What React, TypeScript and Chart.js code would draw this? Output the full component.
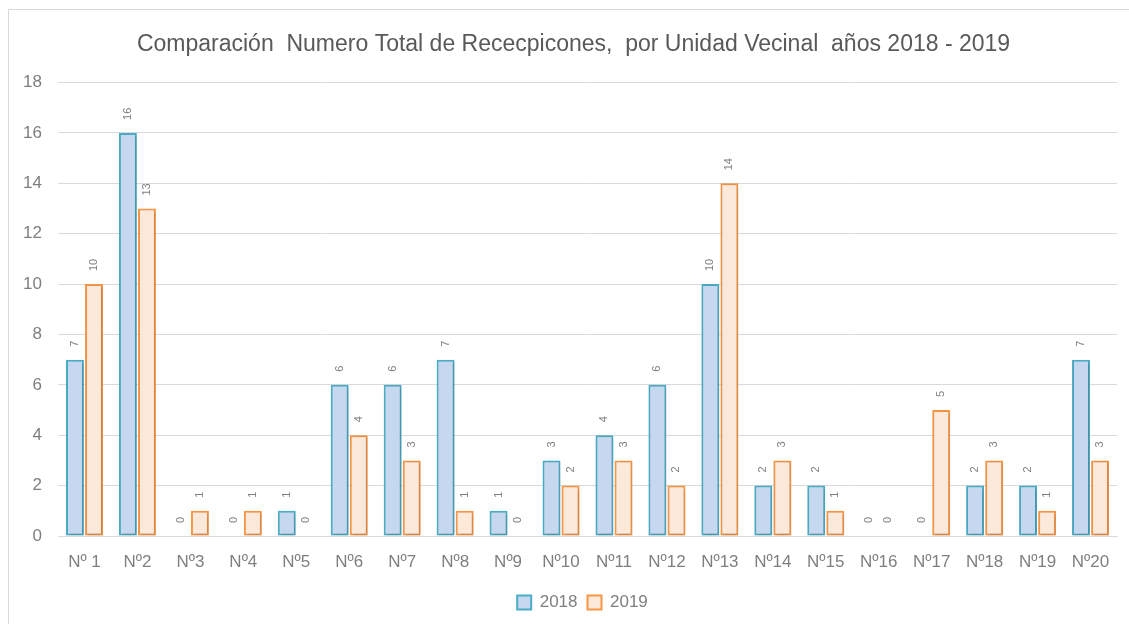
import React, { useEffect, useRef } from 'react';
import { Chart, registerables } from 'chart.js';

Chart.register(...registerables);

const categories = ['Nº 1', 'Nº2', 'Nº3', 'Nº4', 'Nº5', 'Nº6', 'Nº7', 'Nº8', 'Nº9', 'Nº10', 'Nº11', 'Nº12', 'Nº13', 'Nº14', 'Nº15', 'Nº16', 'Nº17', 'Nº18', 'Nº19', 'Nº20'];
const values2018 = [7, 16, 0, 0, 1, 6, 6, 7, 1, 3, 4, 6, 10, 2, 2, 0, 0, 2, 2, 7];
const values2019 = [10, 13, 1, 1, 0, 4, 3, 1, 0, 2, 3, 2, 14, 3, 1, 0, 5, 3, 1, 3];
const seriesNames = ['2018', '2019'];
const titleText = 'Comparación  Numero Total de Rececpicones,  por Unidad Vecinal  años 2018 - 2019';

const FONT = "'Liberation Sans', Arial, sans-serif";

const shadowPlugin = {
  id: 'barShadow',
  beforeDatasetsDraw(chart: any) {
    const ctx = chart.ctx;
    ctx.save();
    ctx.shadowColor = 'rgba(0,0,0,0.22)';
    ctx.shadowBlur = 3;
    ctx.shadowOffsetX = 1;
    ctx.shadowOffsetY = 1;
  },
  afterDatasetsDraw(chart: any) {
    chart.ctx.restore();
  },
};

const dataLabelPlugin = {
  id: 'rotatedLabels',
  afterDatasetsDraw(chart: any) {
    const ctx = chart.ctx;
    ctx.save();
    ctx.shadowColor = 'transparent';
    ctx.fillStyle = '#7f7f7f';
    ctx.font = `11px ${FONT}`;
    ctx.textAlign = 'left';
    ctx.textBaseline = 'middle';
    chart.data.datasets.forEach((ds: any, i: number) => {
      const meta = chart.getDatasetMeta(i);
      meta.data.forEach((el: any, j: number) => {
        const v = ds.data[j];
        ctx.save();
        ctx.translate(el.x, el.y - 13);
        ctx.rotate(-Math.PI / 2);
        ctx.fillText(String(v), 0, 0);
        ctx.restore();
      });
    });
    ctx.restore();
  },
};

const shiftPlugin = {
  id: 'shiftBoxes',
  afterLayout(chart: any) {
    if (chart.titleBlock) {
      chart.titleBlock.left += 11;
      chart.titleBlock.right += 11;
    }
    if (chart.legend) {
      chart.legend.left += 20;
      chart.legend.right += 20;
    }
  },
};

export default function App() {
  const ref = useRef<HTMLCanvasElement | null>(null);
  useEffect(() => {
    if (!ref.current) return;
    const chart = new Chart(ref.current, {
      type: 'bar',
      data: {
        labels: categories,
        datasets: [
          {
            label: seriesNames[0],
            data: values2018,
            backgroundColor: '#c5d8ef',
            borderColor: '#4bacc6',
            borderWidth: (c: any) => (c.raw === 0 ? 0 : 2),
            borderSkipped: false,
            categoryPercentage: 0.72,
            barPercentage: 0.94,
          },
          {
            label: seriesNames[1],
            data: values2019,
            backgroundColor: '#fde9d9',
            borderColor: '#f79646',
            borderWidth: (c: any) => (c.raw === 0 ? 0 : 2),
            borderSkipped: false,
            categoryPercentage: 0.72,
            barPercentage: 0.94,
          },
        ],
      },
      options: {
        responsive: false,
        animation: false,
        layout: { padding: { left: 8, right: 12, top: 0, bottom: 3 } },
        plugins: {
          title: {
            display: true,
            text: titleText,
            color: '#595959',
            font: { family: FONT, size: 23, weight: 'normal' },
            padding: { top: 31, bottom: 24 },
          },
          legend: {
            position: 'bottom',
            labels: {
              color: '#7f7f7f',
              font: { family: FONT, size: 17 },
              boxWidth: 14,
              boxHeight: 14,
              padding: 10,
              generateLabels: (ch: any) =>
                ch.data.datasets.map((ds: any, i: number) => ({
                  text: ds.label,
                  fillStyle: ds.backgroundColor,
                  strokeStyle: ds.borderColor,
                  lineWidth: 2,
                  fontColor: '#7f7f7f',
                  datasetIndex: i,
                  hidden: false,
                })),
            },
          },
          tooltip: { enabled: false },
        },
        scales: {
          x: {
            grid: { display: false, drawTicks: false },
            border: { display: true, color: '#d9d9d9', width: 1 },
            ticks: { color: '#7f7f7f', font: { family: FONT, size: 17 }, padding: 16, maxRotation: 0, autoSkip: false },
            afterFit: (s: any) => { s.height = 48; },
          },
          y: {
            min: 0,
            max: 18,
            ticks: { stepSize: 2, color: '#7f7f7f', font: { family: FONT, size: 17 }, padding: 16 },
            grid: { color: '#d9d9d9', drawTicks: false, lineWidth: 1 },
            border: { display: false },
            afterFit: (s: any) => { s.width = 50; },
          },
        },
      },
      plugins: [shadowPlugin, dataLabelPlugin, shiftPlugin],
    } as any);
    return () => chart.destroy();
  }, []);

  return (
    <div style={{ position: 'fixed', left: 0, top: 0, width: 1129, height: 624, background: '#fff', overflow: 'hidden' }}>
      <div style={{ position: 'absolute', left: 8, top: 9, width: 1130, height: 630, border: '1px solid #d9d9d9', boxSizing: 'border-box' }} />
      <canvas ref={ref} width={1129} height={624} style={{ position: 'absolute', left: 0, top: 0 }} />
    </div>
  );
}
